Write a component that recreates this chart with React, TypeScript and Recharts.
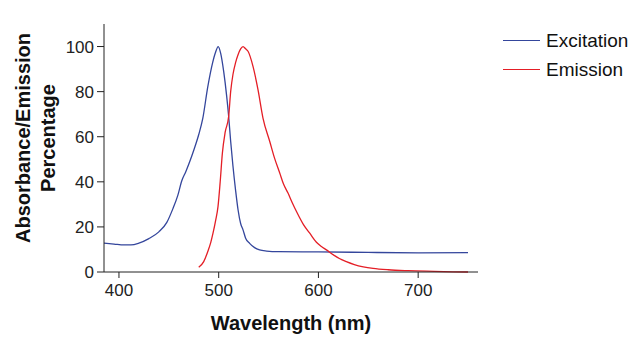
import { LineChart, Line, XAxis, YAxis } from "recharts";

const wavelengthTicks = [400, 500, 600, 700];
const percentTicks = [0, 20, 40, 60, 80, 100];

// [wavelength nm, percentage]
const excitation: [number, number][] = [
  [385, 12.8], [395, 12.4], [405, 12.0], [412, 12.0], [420, 12.8], [430, 14.8],
  [440, 17.8], [448, 22], [454, 28], [459, 34], [463, 40.5], [467, 44.5],
  [471, 49], [475, 54], [480, 61], [484, 68], [489, 82], [494, 93], [496.5, 97],
  [499.5, 100], [502, 97], [505, 89], [508, 78], [510, 69], [512, 58], [514.3, 47],
  [517, 36], [519.4, 27.6], [522, 21.5], [524.4, 18.7], [527, 15], [531, 12.7],
  [536, 10.8], [541, 9.8], [548, 9.3], [560, 9.0], [600, 8.9], [650, 8.7],
  [700, 8.5], [750, 8.6],
];

const emission: [number, number][] = [
  [480, 2.1], [485, 4.6], [489, 9], [492, 13], [494.3, 17.2], [497, 23], [499.3, 29],
  [501.5, 40], [503.7, 52.7], [506.5, 62], [510, 69], [512, 80], [514.3, 87.6],
  [517, 93], [519.4, 96.4], [522, 99], [524.4, 100], [527, 99], [529.4, 97.9],
  [534.4, 91.2], [539.4, 80.9], [544.4, 68.3], [551.2, 57.9], [556, 50.5],
  [561.2, 43.9], [565, 39], [569.5, 35], [574, 30.5], [578, 26.8], [585, 21],
  [591.3, 17.2], [598, 13.2], [603, 11.3], [608, 9.8], [615, 7.6], [621, 6],
  [628, 4.6], [636, 3.3], [645, 2.3], [654.8, 1.6], [670, 1.0], [690, 0.6],
  [716, 0.3], [735, 0.1], [750, 0],
];

const toRows = (pts: [number, number][]) => pts.map(([wl, v]) => ({ wl, v }));

const BLUE = "#34469c";
const RED = "#e41e26";
const FONT = "Arial, 'Liberation Sans', sans-serif";

function YLabel() {
  return (
    <g fontFamily={FONT} fontWeight="bold" fontSize={20} fill="#111">
      <text x={23} y={138} transform="rotate(-90 23 138)" textAnchor="middle" dominantBaseline="central">
        Absorbance/Emission
      </text>
      <text x={48} y={138} transform="rotate(-90 48 138)" textAnchor="middle" dominantBaseline="central">
        Percentage
      </text>
    </g>
  );
}

function LegendBox() {
  const items = [
    { name: "Excitation", color: BLUE },
    { name: "Emission", color: RED },
  ];
  return (
    <div style={{ position: "absolute", left: 503, top: 26, fontFamily: FONT, fontSize: 19, color: "#111" }}>
      {items.map((it) => (
        <div key={it.name} style={{ display: "flex", alignItems: "center", height: 29 }}>
          <span style={{ display: "inline-block", width: 37, height: 1.5, background: it.color, marginRight: 6 }} />
          {it.name}
        </div>
      ))}
    </div>
  );
}

export default function App() {
  return (
    <div style={{ position: "absolute", left: 0, top: 0, width: 640, height: 341, background: "#fff" }}>
      <LineChart width={640} height={341} margin={{ top: 24, right: 162, bottom: 0, left: 0 }}>
        <XAxis
          dataKey="wl"
          type="number"
          domain={[385, 760]}
          ticks={wavelengthTicks}
          allowDataOverflow
          stroke="#222"
          tickSize={6}
          tickMargin={6}
          tick={{ fontSize: 17, fill: "#222", fontFamily: FONT }}
          height={69}
          label={{
            value: "Wavelength (nm)",
            position: "insideBottom",
            offset: 11,
            fontSize: 20,
            fontWeight: "bold",
            fill: "#111",
            fontFamily: FONT,
          }}
        />
        <YAxis
          type="number"
          domain={[0, 110]}
          ticks={percentTicks}
          stroke="#222"
          width={104}
          tickSize={7}
          tickMargin={3}
          tick={{ fontSize: 17, fill: "#222", fontFamily: FONT }}
          label={{ content: () => <YLabel /> }}
        />
        <Line
          data={toRows(excitation)}
          dataKey="v"
          name="Excitation"
          type="monotone"
          stroke={BLUE}
          strokeWidth={1.3}
          dot={false}
          isAnimationActive={false}
        />
        <Line
          data={toRows(emission)}
          dataKey="v"
          name="Emission"
          type="monotone"
          stroke={RED}
          strokeWidth={1.3}
          dot={false}
          isAnimationActive={false}
        />
      </LineChart>
      <LegendBox />
    </div>
  );
}
